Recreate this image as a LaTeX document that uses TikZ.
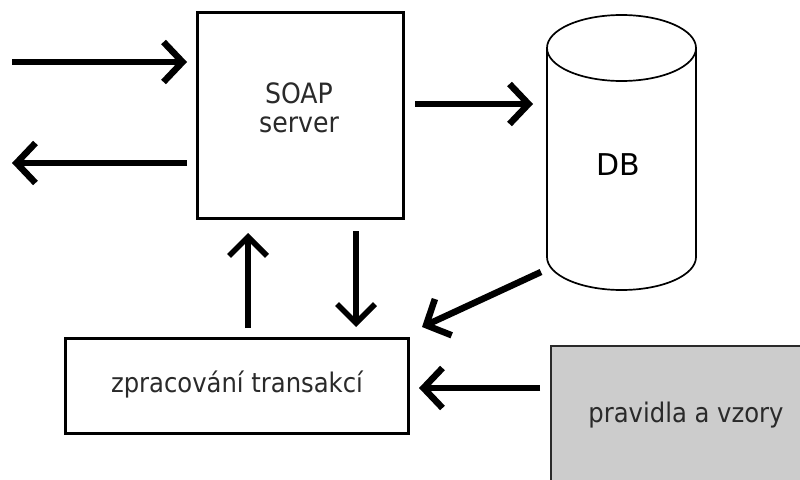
\documentclass[tikz,border=0pt]{standalone}
\usepackage{fontspec}
\setmainfont{DejaVu Sans}
\newfontfamily\condfont{DejaVu Sans Condensed}
\usetikzlibrary{arrows.meta}
\definecolor{txt}{HTML}{2A2A2A}
\definecolor{rulesgray}{HTML}{CCCCCC}
\tikzset{
  flow/.style={line width=6.5pt, -{Straight Barb[length=19pt,width=40pt]}},
  vflow/.style={line width=5.5pt, -{Straight Barb[length=19pt,width=38pt]}},
  procbox/.style={draw, line width=3pt, fill=white, inner sep=0pt},
  lbl/.style={text=txt, font=\condfont\fontsize{27}{31}\selectfont, align=center, inner sep=0pt},
}
\begin{document}
\begin{tikzpicture}[x=1pt, y=-1pt]
  \useasboundingbox (0,0) rectangle (800,479);

  % SOAP server box
  \node[procbox, minimum width=206pt, minimum height=206pt] (soap) at (300,115) {};
  \node[lbl, font=\condfont\fontsize{28}{29}\selectfont] (soaplbl) at (299,108) {SOAP\\server};

  % transaction processing box
  \node[procbox, minimum width=343pt, minimum height=95pt] (proc) at (236.5,385.5) {};
  \node[lbl] (proclbl) at (237,385) {zpracování transakcí};

  % rules and templates box (runs off the page edge)
  \node[draw=txt, line width=1.6pt, fill=rulesgray, minimum width=252pt, minimum height=136pt, inner sep=0pt] (rules) at (677,414) {};
  \node[lbl] (ruleslbl) at (686,415) {pravidla a vzory};

  % database cylinder
  \begin{scope}[line width=1.7pt]
    \draw[fill=white] (547,48) -- (547,257) arc[start angle=180, end angle=360, x radius=74.5pt, y radius=33pt] -- (696,48);
    \draw[fill=white] (621.5,48) ellipse[x radius=74.5pt, y radius=33pt];
  \end{scope}
  \node[inner sep=0pt, font=\fontsize{30}{34}\selectfont] (db) at (618,165) {DB};

  % connector end points
  \coordinate (inL) at (12,62);
  \coordinate (inR) at (187,62);
  \coordinate (outR) at (187,163);
  \coordinate (outL) at (12,163);
  \coordinate (todbA) at (415,104);
  \coordinate (todbB) at (533,104);
  \coordinate (upA) at (248,328);
  \coordinate (upB) at (248,233);
  \coordinate (dnA) at (356,231);
  \coordinate (dnB) at (356,327);
  \coordinate (dboutA) at (541,272);
  \coordinate (dboutB) at (422,327);
  \coordinate (rulesA) at (540,388);
  \coordinate (rulesB) at (419,388);

  \draw[flow] (inL) -- (inR);
  \draw[flow] (outR) -- (outL);
  \draw[flow] (todbA) -- (todbB);
  \draw[vflow] (upA) -- (upB);
  \draw[vflow] (dnA) -- (dnB);
  \draw[flow] (dboutA) -- (dboutB);
  \draw[flow] (rulesA) -- (rulesB);
\end{tikzpicture}
\end{document}
